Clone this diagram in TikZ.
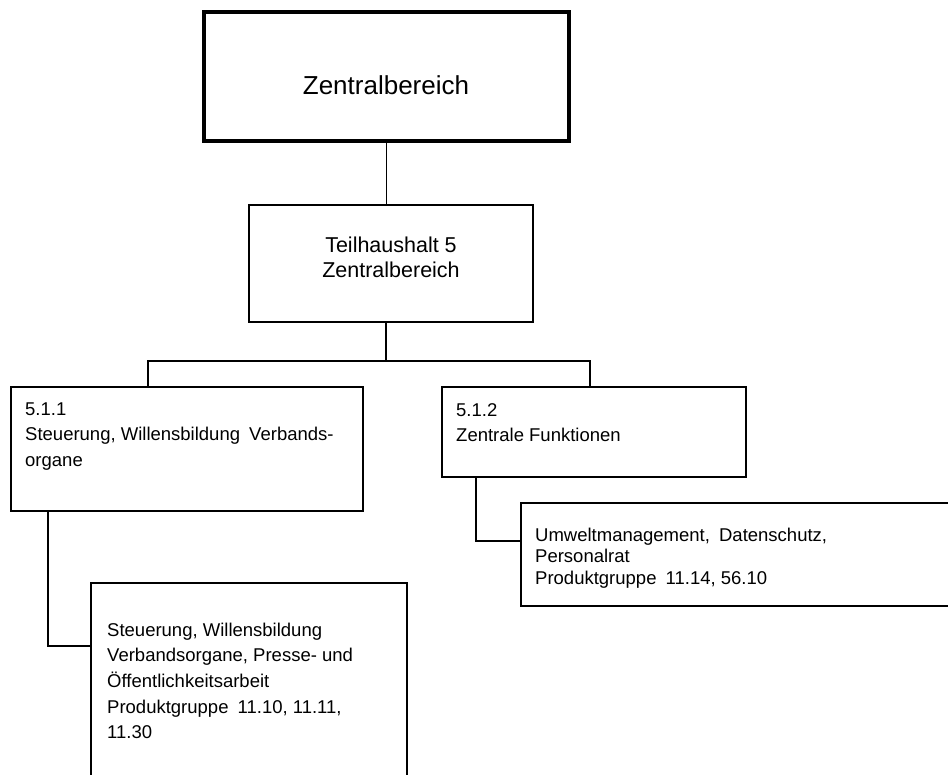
\documentclass[tikz,border=0pt]{standalone}
\usepackage{fontspec}
\setmainfont{Liberation Sans}
\begin{document}
\begin{tikzpicture}[x=1pt,y=-1pt,
  box/.style={draw=black, line width=1.3pt, rectangle, inner sep=0pt, outer sep=0pt},
  thickbox/.style={box, line width=3.4pt},
  midbox/.style={box, line width=2.6pt},
  conn/.style={draw=black, line width=1.3pt},
  small/.style={inner sep=0pt, anchor=base west, font=\fontsize{18.5}{25.7}\selectfont},
  smalltight/.style={small, font=\fontsize{18.5}{21.5}\selectfont}]
\useasboundingbox (0,0) rectangle (948,774);
\clip (0,0) rectangle (948,774);
% boxes
\node[thickbox, minimum width=365pt, minimum height=129pt] (top) at (386.5,76.5) {};
\node[midbox, minimum width=284pt, minimum height=117pt] (mid) at (391,263.5) {};
\node[box, minimum width=352pt, minimum height=124pt] (b511) at (187,449) {};
\node[box, minimum width=304pt, minimum height=90pt] (b512) at (594,432) {};
\node[box, minimum width=316pt, minimum height=217pt] (bl) at (249,691.5) {};
\node[box, minimum width=459pt, minimum height=103pt] (br) at (750.5,554.5) {};
% texts
\node[inner sep=0pt, anchor=base, font=\fontsize{26}{30}\selectfont] (ttop) at (386,94) {Zentralbereich};
\node[inner sep=0pt, anchor=base, font=\fontsize{21.5}{25}\selectfont] (tmid1) at (391,252) {Teilhaushalt 5};
\node[inner sep=0pt, anchor=base, font=\fontsize{21.5}{25}\selectfont] (tmid2) at (391,277) {Zentralbereich};
\node[small] (t511) at (25,415) {\vtop{\hbox{5.1.1}\hbox{Steuerung, Willensbildung\hspace{4pt} Verbands-}\hbox{organe}}};
\node[small] (t512) at (456,416) {\vtop{\hbox{5.1.2}\hbox{Zentrale Funktionen}}};
\node[small] (tbl) at (107,636) {\vtop{\hbox{Steuerung, Willensbildung}\hbox{Verbandsorgane, Presse- und}\hbox{Öffentlichkeitsarbeit}\hbox{Produktgruppe\hspace{4pt} 11.10, 11.11,}\hbox{11.30}}};
\node[smalltight] (tbr) at (535,541) {\vtop{\hbox{Umweltmanagement,\hspace{4pt} Datenschutz,}\hbox{Personalrat}\hbox{Produktgruppe\hspace{4pt} 11.14, 56.10}}};
% connectors
\coordinate (j) at (386,361);
\coordinate (jl) at (148,361);
\coordinate (jr) at (590,361);
\coordinate (c1) at (48,646);
\coordinate (c2) at (476,541);
\draw[conn] (top.south) -- (top.south |- mid.north);
\draw[conn] (j |- mid.south) -- (j);
\draw[conn] (jl |- b511.north) -- (jl) -- (jr) -- (jr |- b512.north);
\draw[conn] (c1 |- b511.south) -- (c1) -- (c1 -| bl.west);
\draw[conn] (c2 |- b512.south) -- (c2) -- (c2 -| br.west);
\end{tikzpicture}
\end{document}
